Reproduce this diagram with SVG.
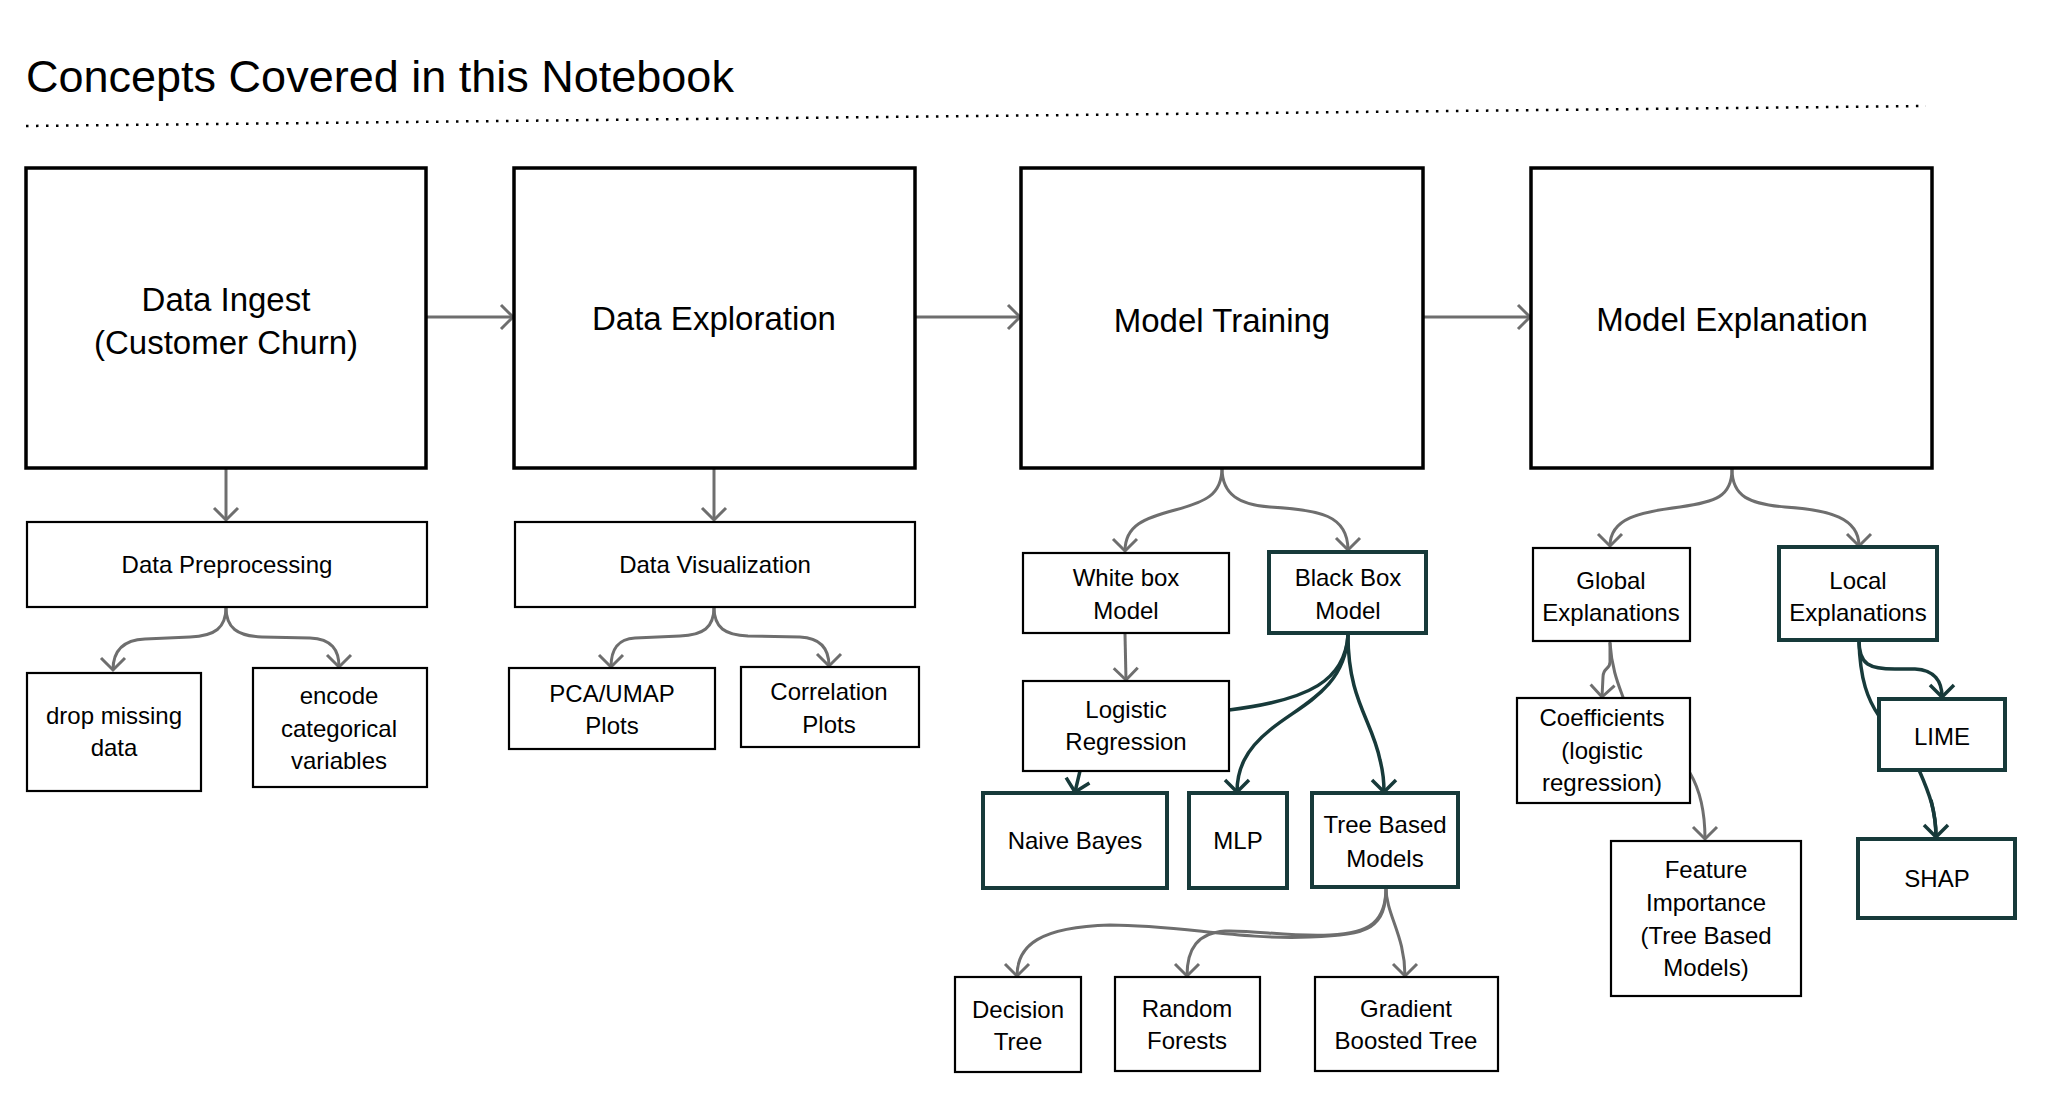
<svg xmlns="http://www.w3.org/2000/svg" width="2048" height="1120" viewBox="0 0 2048 1120">
<style>
.t{font-family:"Liberation Sans",Arial,sans-serif;fill:#000;text-anchor:middle}
.s{font-size:24px}
.b{font-size:33px}
.big{fill:#fff;stroke:#000;stroke-width:3.5}
.thin{fill:#fff;stroke:#000;stroke-width:2.2}
.dark{fill:#fff;stroke:#173a3a;stroke-width:4}
.cg{fill:none;stroke:#6e6e6e;stroke-width:3;marker-end:url(#ag)}
.cd{fill:none;stroke:#173a3a;stroke-width:3.5;marker-end:url(#ad)}
.cdn{fill:none;stroke:#173a3a;stroke-width:3.5}
</style>
<defs>
<marker id="ag" markerUnits="userSpaceOnUse" markerWidth="30" markerHeight="30" refX="13" refY="12" orient="auto" overflow="visible">
<path d="M1,0 L13,12 L1,24" fill="none" stroke="#6e6e6e" stroke-width="3"/>
</marker>
<marker id="ad" markerUnits="userSpaceOnUse" markerWidth="30" markerHeight="30" refX="13" refY="12" orient="auto" overflow="visible">
<path d="M1,0 L13,12 L1,24" fill="none" stroke="#173a3a" stroke-width="3.5"/>
</marker>
</defs>
<rect width="2048" height="1120" fill="#fff"/>
<g id="title">
<text x="26" y="92" style="font-family:'Liberation Sans',Arial,sans-serif;font-size:45px">Concepts Covered in this Notebook</text>
<path d="M26,126 L1926,106" fill="none" stroke="#000" stroke-width="2.5" stroke-dasharray="2.5 7.5"/>
</g>
<g id="connectors">
<path class="cg" d="M427,317 L513,317"/>
<path class="cg" d="M915,317 L1020,317"/>
<path class="cg" d="M1423,317 L1530,317"/>
<path class="cg" d="M226,468 L226,520"/>
<path class="cg" d="M714,468 L714,520"/>
<path class="cg" d="M226,607 C226,628 215,636 190,637 L145,639 C122,640 113,652 113,670"/>
<path class="cg" d="M226,607 C226,628 237,636 262,637 L310,638 C332,639 339,650 339,667"/>
<path class="cg" d="M714,607 C714,628 703,635 680,636 L635,638 C617,639 611,650 611,667"/>
<path class="cg" d="M714,607 C714,628 725,635 748,636 L800,637 C822,638 829,650 829,666"/>
<path class="cg" d="M1222,468 C1222,495 1205,502 1175,510 C1145,518 1125,525 1125,551"/>
<path class="cg" d="M1222,468 C1222,495 1240,505 1270,507 C1320,510 1348,515 1348,550"/>
<path class="cg" d="M1125,634 L1126,680"/>
<path class="cd" d="M1348,635 C1345,680 1310,700 1229,710 C1150,720 1085,740 1080,771 L1075,792"/>
<path class="cd" d="M1348,635 C1345,690 1300,705 1270,730 C1245,750 1237,770 1237,792"/>
<path class="cd" d="M1348,635 C1348,700 1372,720 1380,760 C1384,775 1384,785 1384,792"/>
<path class="cg" d="M1386,887 C1386,928 1370,935 1310,937 C1240,940 1180,925 1110,925 C1040,927 1017,945 1017,976"/>
<path class="cg" d="M1386,887 C1386,922 1370,933 1330,935 C1290,937 1255,930 1225,931 C1198,933 1187,948 1187,976"/>
<path class="cg" d="M1386,887 C1386,915 1405,935 1405,976"/>
<path class="cg" d="M1732,469 C1732,497 1715,502 1680,507 C1640,512 1610,518 1610,546"/>
<path class="cg" d="M1732,469 C1732,497 1750,504 1785,507 C1830,510 1859,518 1859,546"/>
<path class="cg" d="M1610,641 L1610,662 C1610,670 1603,667 1603,677 L1602,697"/>
<path class="cg" d="M1610,643 C1612,672 1620,688 1624,700 C1640,728 1675,750 1690,773 C1700,790 1705,810 1705,839"/>
<path class="cd" d="M1859,641 C1859,665 1870,669 1895,669 L1915,669 C1935,670 1942,682 1942,697"/>
<path class="cdn" d="M1859,641 C1860,680 1868,700 1879,716 C1895,740 1910,755 1919,770 C1930,795 1936,812 1936,837"/>
<path class="cd" d="M1931,800 C1934,812 1936,822 1936,837"/>
</g>
<g id="ingest"><rect class="big" x="26" y="168" width="400" height="300"/><text class="t b" x="226" y="311">Data Ingest</text><text class="t b" x="226" y="354">(Customer Churn)</text></g>
<g id="exploration"><rect class="big" x="514" y="168" width="401" height="300"/><text class="t b" x="714" y="330">Data Exploration</text></g>
<g id="training"><rect class="big" x="1021" y="168" width="402" height="300"/><text class="t b" x="1222" y="332">Model Training</text></g>
<g id="explanation"><rect class="big" x="1531" y="168" width="401" height="300"/><text class="t b" x="1732" y="331">Model Explanation</text></g>
<g id="preprocessing"><rect class="thin" x="27" y="522" width="400" height="85"/><text class="t s" x="227" y="573">Data Preprocessing</text></g>
<g id="visualization"><rect class="thin" x="515" y="522" width="400" height="85"/><text class="t s" x="715" y="573">Data Visualization</text></g>
<g id="drop"><rect class="thin" x="27" y="673" width="174" height="118"/><text class="t s" x="114" y="724">drop missing</text><text class="t s" x="114" y="756">data</text></g>
<g id="encode"><rect class="thin" x="253" y="668" width="174" height="119"/><text class="t s" x="339" y="704">encode</text><text class="t s" x="339" y="737">categorical</text><text class="t s" x="339" y="769">variables</text></g>
<g id="pca"><rect class="thin" x="509" y="668" width="206" height="81"/><text class="t s" x="612" y="702">PCA/UMAP</text><text class="t s" x="612" y="734">Plots</text></g>
<g id="correlation"><rect class="thin" x="741" y="667" width="178" height="80"/><text class="t s" x="829" y="700">Correlation</text><text class="t s" x="829" y="733">Plots</text></g>
<g id="whitebox"><rect class="thin" x="1023" y="553" width="206" height="80"/><text class="t s" x="1126" y="586">White box</text><text class="t s" x="1126" y="619">Model</text></g>
<g id="blackbox"><rect class="dark" x="1269" y="552" width="157" height="81"/><text class="t s" x="1348" y="586">Black Box</text><text class="t s" x="1348" y="619">Model</text></g>
<g id="logistic"><rect class="thin" x="1023" y="681" width="206" height="90"/><text class="t s" x="1126" y="718">Logistic</text><text class="t s" x="1126" y="750">Regression</text></g>
<g id="naive"><rect class="dark" x="983" y="793" width="184" height="95"/><text class="t s" x="1075" y="849">Naive Bayes</text></g>
<g id="mlp"><rect class="dark" x="1189" y="793" width="98" height="95"/><text class="t s" x="1238" y="849">MLP</text></g>
<g id="tree"><rect class="dark" x="1312" y="793" width="146" height="94"/><text class="t s" x="1385" y="833">Tree Based</text><text class="t s" x="1385" y="867">Models</text></g>
<g id="decision"><rect class="thin" x="955" y="977" width="126" height="95"/><text class="t s" x="1018" y="1018">Decision</text><text class="t s" x="1018" y="1050">Tree</text></g>
<g id="random"><rect class="thin" x="1115" y="977" width="145" height="94"/><text class="t s" x="1187" y="1017">Random</text><text class="t s" x="1187" y="1049">Forests</text></g>
<g id="gradient"><rect class="thin" x="1315" y="977" width="183" height="94"/><text class="t s" x="1406" y="1017">Gradient</text><text class="t s" x="1406" y="1049">Boosted Tree</text></g>
<g id="global"><rect class="thin" x="1533" y="548" width="157" height="93"/><text class="t s" x="1611" y="589">Global</text><text class="t s" x="1611" y="621">Explanations</text></g>
<g id="local"><rect class="dark" x="1779" y="547" width="158" height="93"/><text class="t s" x="1858" y="589">Local</text><text class="t s" x="1858" y="621">Explanations</text></g>
<g id="coefficients"><rect class="thin" x="1517" y="698" width="173" height="105"/><text class="t s" x="1602" y="726">Coefficients</text><text class="t s" x="1602" y="759">(logistic</text><text class="t s" x="1602" y="791">regression)</text></g>
<g id="feature"><rect class="thin" x="1611" y="841" width="190" height="155"/><text class="t s" x="1706" y="878">Feature</text><text class="t s" x="1706" y="911">Importance</text><text class="t s" x="1706" y="944">(Tree Based</text><text class="t s" x="1706" y="976">Models)</text></g>
<g id="lime"><rect class="dark" x="1879" y="699" width="126" height="71"/><text class="t s" x="1942" y="745">LIME</text></g>
<g id="shap"><rect class="dark" x="1858" y="839" width="157" height="79"/><text class="t s" x="1937" y="887">SHAP</text></g>
</svg>
